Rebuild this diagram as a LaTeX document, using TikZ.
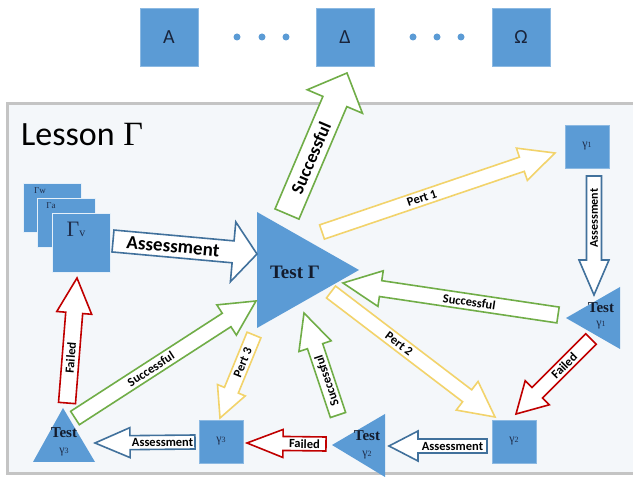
\documentclass[tikz,border=0pt]{standalone}
\usepackage{fontspec}
\setmainfont{Liberation Serif}
\setsansfont{Carlito}
\usetikzlibrary{calc}
\definecolor{boxblue}{HTML}{5B9BD5}
\definecolor{agreen}{HTML}{70AD47}
\definecolor{ayellow}{HTML}{F2D36B}
\definecolor{ared}{HTML}{C00000}
\definecolor{ablue}{HTML}{41719C}
\definecolor{navy}{HTML}{1F2D4A}
\definecolor{framefill}{HTML}{F4F7FA}
\definecolor{framegray}{HTML}{C4C4C4}
% #1 colour, #2 tail, #3 tip, #4 half shaft, #5 half head, #6 head length, #7 label, #8 extra text rotation, #9 font size
\newcommand\blockarrow[9]{%
  \coordinate (ba) at ($(#3)!#6pt!(#2)$);
  \draw[line width=1.6pt,draw=#1,fill=white,line join=miter,miter limit=6]
    ($(#2)!#4pt!90:(#3)$) -- ($(ba)!#4pt!-90:(#2)$) -- ($(ba)!#5pt!-90:(#2)$) -- (#3)
    -- ($(ba)!#5pt!90:(#2)$) -- ($(ba)!#4pt!90:(#2)$) -- ($(#2)!#4pt!-90:(#3)$) -- cycle;
  \path let \p1=($(#3)-(#2)$), \n1={atan2(\y1,\x1)+#8} in
    ($(#2)!0.5!(ba)$) node[rotate=\n1, inner sep=0pt, text=black,
      font=\sffamily\bfseries\fontsize{#9}{#9}\selectfont] (#2-lbl) {#7};
}
\tikzset{
  bluebox/.style={fill=boxblue, draw=boxblue!70!white, line width=0.6pt, inner sep=0pt},
  topbox/.style={bluebox, minimum width=58pt, minimum height=58pt,
    font=\sffamily\fontsize{20}{20}\selectfont, text=navy!80!black},
  gbox/.style={bluebox, minimum width=44pt, minimum height=43pt,
    font=\fontsize{12}{12}\selectfont, text=navy},
  tri/.style={fill=boxblue, draw=none},
  testlbl/.style={font=\bfseries\fontsize{15}{15}\selectfont, text=navy!60!black, inner sep=0pt},
  gamlbl/.style={font=\fontsize{12}{12}\selectfont, text=navy, inner sep=0pt},
  dot/.style={circle, fill=boxblue, minimum size=7pt, inner sep=0pt}
}
\begin{document}
\begin{tikzpicture}[x=1pt,y=-1pt]
\useasboundingbox (0,0) rectangle (633,478);
\fill[white] (0,0) rectangle (633,478);
% top row
\node[topbox] (A) at (169,37) {A};
\node[topbox] (D) at (345,37) {Δ};
\node[topbox] (O) at (521,37) {Ω};
\node[dot] (d1) at (237,37) {};
\node[dot] (d2) at (262,37) {};
\node[dot] (d3) at (286,37) {};
\node[dot] (d4) at (413,37) {};
\node[dot] (d5) at (437,37) {};
\node[dot] (d6) at (461,37) {};
% lesson frame
\draw[line width=3pt, draw=framegray, fill=framefill] (7,104) rectangle (645,474);
\node[anchor=base west, inner sep=0pt, font=\fontsize{34}{34}\selectfont] (title) at (21,146)
  {{\sffamily Lesson} Γ};
% stacked boxes
\node[bluebox, draw=white!85!boxblue, minimum width=58pt, minimum height=49pt] (Gw) at (52,207.5) {};
\node[bluebox, draw=white!85!boxblue, minimum width=58pt, minimum height=49pt] (Ga) at (66.5,222.5) {};
\node[bluebox, draw=white!85!boxblue, minimum width=58pt, minimum height=59pt] (Gv) at (81,242.5) {};
\node[inner sep=0pt, text=navy, font=\fontsize{9}{9}\selectfont] (Gwl) at (40,191) {Γw};
\node[inner sep=0pt, text=navy, font=\fontsize{9}{9}\selectfont] (Gal) at (51,206) {Γa};
\node[inner sep=0pt, text=navy, font=\fontsize{22}{22}\selectfont] (Gvl) at (76,229) {Γ\fontsize{12}{12}\selectfont v};
% Test Gamma
\fill[tri] (257,212) coordinate (TGa) -- (257,328) coordinate (TGb) -- (359,270) coordinate (TGc) -- cycle;
\node[testlbl, font=\bfseries\fontsize{19}{19}\selectfont] (TGl) at (295,272) {Test Γ};
% gamma boxes
\node[gbox] (g1) at (587,146.5) {γ\fontsize{8}{8}\selectfont 1};
\node[gbox] (g2) at (514,441.5) {γ\fontsize{8}{8}\selectfont 2};
\node[gbox] (g3) at (221,441.5) {γ\fontsize{8}{8}\selectfont 3};
% test triangles
\fill[tri] (566,318) coordinate (T1a) -- (620,287) coordinate (T1b) -- (620,349) coordinate (T1c) -- cycle;
\node[testlbl] (T1l) at (601,308) {Test};
\node[gamlbl] (T1g) at (601,325) {γ\fontsize{8}{8}\selectfont 1};
\fill[tri] (332,445) coordinate (T2a) -- (385,414) coordinate (T2b) -- (385,477) coordinate (T2c) -- cycle;
\node[testlbl] (T2l) at (367,436) {Test};
\node[gamlbl] (T2g) at (367,455) {γ\fontsize{8}{8}\selectfont 2};
\fill[tri] (63,408) coordinate (T3a) -- (95,462) coordinate (T3b) -- (33,462) coordinate (T3c) -- cycle;
\node[testlbl] (T3l) at (64,433) {Test};
\node[gamlbl] (T3g) at (64,452) {γ\fontsize{8}{8}\selectfont 3};
% arrow end coordinates
\coordinate (as0t) at (113,241); \coordinate (as0h) at (257,254);
\coordinate (su0t) at (287,214); \coordinate (su0h) at (347,73);
\coordinate (p1t) at (322,232);  \coordinate (p1h) at (555,153);
\coordinate (a1t) at (594,176);  \coordinate (a1h) at (594,295);
\coordinate (s1t) at (558,315);  \coordinate (s1h) at (343,283);
\coordinate (f1t) at (591,339);  \coordinate (f1h) at (516,414);
\coordinate (p2t) at (331,292);  \coordinate (p2h) at (495,417);
\coordinate (a2t) at (487,446);  \coordinate (a2h) at (389,446);
\coordinate (f2t) at (326,444);  \coordinate (f2h) at (247,443);
\coordinate (s2t) at (338,415);  \coordinate (s2h) at (304,313);
\coordinate (p3t) at (254,335);  \coordinate (p3h) at (220,418);
\coordinate (s3t) at (75,418);   \coordinate (s3h) at (256,301);
\coordinate (a3t) at (195,442);  \coordinate (a3h) at (95,443);
\coordinate (f3t) at (67,403);   \coordinate (f3h) at (77,278);
% arrows
\blockarrow{ablue}{as0t}{as0h}{11}{30}{24}{Assessment}{0}{19}
\blockarrow{agreen}{su0t}{su0h}{13}{30}{31}{Successful}{0}{18}
\blockarrow{ayellow}{p1t}{p1h}{7.5}{17}{35}{Pert 1}{0}{12.5}
\blockarrow{ablue}{a1t}{a1h}{7.5}{15}{35}{Assessment}{180}{12}
\blockarrow{agreen}{s1t}{s1h}{8}{18}{38}{Successful}{180}{12.5}
\blockarrow{ared}{f1t}{f1h}{7.5}{17}{30}{Failed}{180}{12.5}
\blockarrow{ayellow}{p2t}{p2h}{7.5}{18}{35}{Pert 2}{0}{12.5}
\blockarrow{ablue}{a2t}{a2h}{7}{15}{29}{Assessment}{180}{12.5}
\blockarrow{ared}{f2t}{f2h}{7}{14}{36}{Failed}{180}{12.5}
\blockarrow{agreen}{s2t}{s2h}{8}{17}{35}{Successful}{0}{12.5}
\blockarrow{ayellow}{p3t}{p3h}{7.5}{15}{30}{Pert 3}{180}{12.5}
\blockarrow{agreen}{s3t}{s3h}{8}{18}{35}{Successful}{0}{12.5}
\blockarrow{ablue}{a3t}{a3h}{7}{15}{35}{Assessment}{180}{12.5}
\blockarrow{ared}{f3t}{f3h}{8.5}{17.5}{35}{Failed}{0}{12.5}
\end{tikzpicture}
\end{document}
